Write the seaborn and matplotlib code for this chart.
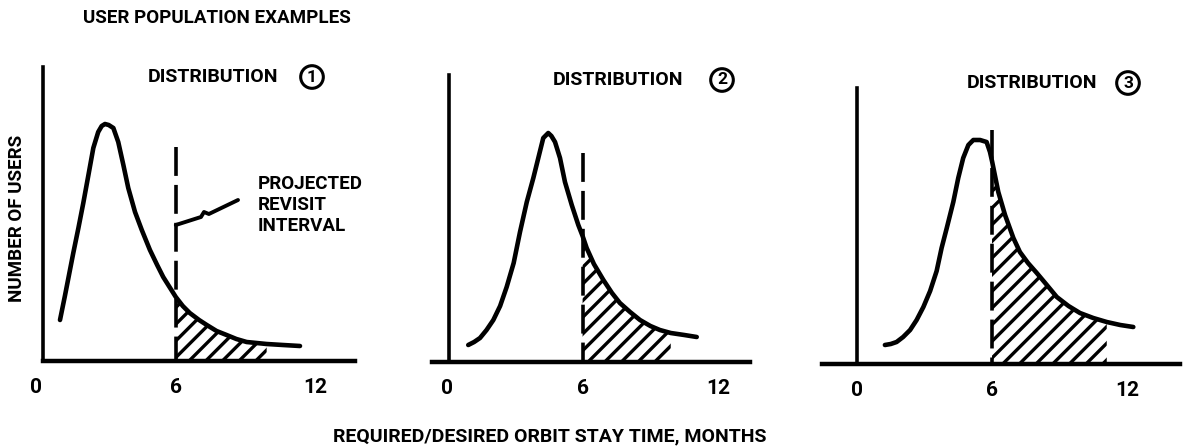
import matplotlib
matplotlib.use("Agg")
import matplotlib.pyplot as plt
import seaborn as sns

# Required/desired orbit stay time (months) and relative number of users
months_1 = [1.03, 1.24, 1.6, 1.82, 2.03, 2.25, 2.46, 2.67, 2.82, 2.96, 3.12, 3.32,
            3.53, 3.75, 3.96, 4.25, 4.54, 4.89, 5.2, 5.46, 6.0, 6.3, 6.6, 7.0,
            7.33, 7.75, 8.18, 8.6, 9.04, 9.9, 10.6, 11.33]
users_1 = [41, 65, 108, 133, 158, 186, 213, 229, 235, 237, 236, 233,
           219, 196, 173, 149, 131, 111, 96, 84, 64, 55, 48, 41,
           36, 30, 26, 22, 19, 17, 16, 15]

months_2 = [0.94, 1.2, 1.46, 1.75, 2.05, 2.35, 2.64, 2.95, 3.23, 3.53, 3.82, 4.04,
            4.26, 4.48, 4.62, 4.78, 5.0, 5.22, 5.52, 5.81, 6.0, 6.18, 6.5, 6.92,
            7.3, 7.65, 8.1, 8.54, 9.0, 9.42, 9.9, 10.5, 11.05]
users_2 = [17, 20, 24, 32, 42, 56, 75, 99, 130, 160, 184, 204,
           224, 229, 226, 220, 204, 180, 157, 137, 126, 114, 98, 82,
           69, 59, 50, 42, 36, 32, 29, 27, 25]

months_3 = [1.24, 1.5, 1.76, 2.05, 2.36, 2.65, 2.95, 3.25, 3.54, 3.76, 3.99, 4.28,
            4.5, 4.72, 4.95, 5.17, 5.47, 5.76, 5.91, 6.0, 6.28, 6.58, 6.95, 7.24,
            7.6, 7.99, 8.4, 8.88, 9.4, 9.91, 10.5, 11.1, 11.7, 12.28]
users_3 = [19, 20, 22, 27, 34, 44, 57, 73, 93, 116, 136, 162,
           186, 206, 219, 224, 224, 222, 212, 203, 172, 149, 126, 112,
           101, 91, 80, 67, 58, 51, 46, 42, 39, 37]

revisit_interval = 6
shaded_until = [9.9, 9.9, 11.1]
x_ticks = [0, 6, 12]
panel_titles = ["DISTRIBUTION", "DISTRIBUTION", "DISTRIBUTION"]
panel_numbers = ["1", "2", "3"]

series = [(months_1, users_1), (months_2, users_2), (months_3, users_3)]

# ---- layout (pixels on a 1183 x 448 canvas) ----
W, H = 1183, 448
TOP = 55
layouts = [
    dict(x0=36, scale=23.3, base=361, xlim=(-1.2, 14.2), span=(0.3, 13.7),
         yaxis_at=0.3, yaxis_top=294, marker_top=214, title_x=148, num_x=312, title_y=77),
    dict(x0=447, scale=22.6, base=362, xlim=(-1.2, 14.2), span=(-0.66, 13.4),
         yaxis_at=0.1, yaxis_top=287, marker_top=209, title_x=553, num_x=722, title_y=80),
    dict(x0=857, scale=22.5, base=364, xlim=(-1.7, 14.5), span=(-1.56, 14.36),
         yaxis_at=0.0, yaxis_top=276, marker_top=234, title_x=967, num_x=1128, title_y=83),
]

sns.set_theme(style="white")
FONT = ["Roboto", "DejaVu Sans"]
plt.rcParams["font.family"] = FONT
plt.rcParams["font.weight"] = "bold"
plt.rcParams["text.color"] = "black"
plt.rcParams["xtick.color"] = "black"
plt.rcParams["hatch.linewidth"] = 2.4

fig = plt.figure(figsize=(W / 100, H / 100), dpi=100)
fig.patch.set_facecolor("white")

for i, ((mx, uy), lay) in enumerate(zip(series, layouts)):
    x_left_px = lay["x0"] + lay["xlim"][0] * lay["scale"]
    x_right_px = lay["x0"] + lay["xlim"][1] * lay["scale"]
    ax = fig.add_axes([x_left_px / W, 1 - lay["base"] / H,
                       (x_right_px - x_left_px) / W, (lay["base"] - TOP) / H])
    ax.set_xlim(*lay["xlim"])
    ax.set_ylim(0, lay["base"] - TOP)
    ax.patch.set_alpha(0)

    # distribution curve
    sns.lineplot(x=mx, y=uy, ax=ax, color="black", linewidth=3.3, sort=False)
    for ln in ax.lines:
        ln.set_solid_joinstyle("round")
        ln.set_solid_capstyle("round")

    # hatched share of users beyond the revisit interval
    sel = [j for j, m in enumerate(mx) if revisit_interval <= m <= shaded_until[i]]
    ax.fill_between([mx[j] for j in sel], 0, [uy[j] for j in sel],
                    facecolor="none", edgecolor="black", linewidth=0, hatch="//")

    # projected revisit interval marker
    ax.plot([revisit_interval, revisit_interval], [lay["marker_top"], 0],
            color="black", linewidth=2.6, linestyle=(0, (8, 2.5)))

    # axes styling
    for side in ("top", "right"):
        ax.spines[side].set_visible(False)
    ax.spines["left"].set_position(("data", lay["yaxis_at"]))
    ax.spines["left"].set_bounds(0, lay["yaxis_top"])
    ax.spines["left"].set_linewidth(2.6)
    ax.spines["bottom"].set_bounds(*lay["span"])
    ax.spines["bottom"].set_linewidth(3.2)
    for sp in ax.spines.values():
        sp.set_color("black")
    ax.set_yticks([])
    ax.set_xticks(x_ticks)
    ax.set_xticklabels([str(t) for t in x_ticks], fontsize=15, fontweight="bold")
    ax.tick_params(axis="x", direction="in", length=7, width=3, pad=12, colors="black")
    ax.set_xlabel("")
    ax.set_ylabel("")

    # panel heading with circled number
    fig.text(lay["title_x"] / W, 1 - lay["title_y"] / H, panel_titles[i],
             fontsize=14, fontweight="bold", ha="left", va="center")
    fig.text(lay["num_x"] / W, 1 - lay["title_y"] / H, panel_numbers[i],
             fontsize=12.5, fontweight="bold", ha="center", va="center",
             bbox=dict(boxstyle="circle,pad=0.22", fc="none", ec="black", lw=2.2))

    if i == 0:
        # leader from the callout text to the revisit marker
        lx = [8.67, 7.42, 7.21, 7.08, revisit_interval]
        ly = [161, 147, 149, 144, 136]
        ax.plot(lx, ly, color="black", linewidth=2.8, solid_capstyle="round",
                solid_joinstyle="round")
        ax.text((258 - lay["x0"]) / lay["scale"], lay["base"] - 175,
                "PROJECTED\nREVISIT\nINTERVAL", fontsize=13.5, fontweight="bold",
                ha="left", va="top", linespacing=1.2)

fig.text(83 / W, 1 - 18 / H, "USER POPULATION EXAMPLES", fontsize=13.5,
         fontweight="bold", ha="left", va="center")
fig.text(17 / W, 1 - 218 / H, "NUMBER OF USERS", fontsize=13.5, fontweight="bold",
         rotation=90, ha="center", va="center")
fig.text(550 / W, 1 - 436 / H, "REQUIRED/DESIRED ORBIT STAY TIME, MONTHS",
         fontsize=14, fontweight="bold", ha="center", va="center")

fig.savefig("out.png", dpi=100, facecolor="white")
